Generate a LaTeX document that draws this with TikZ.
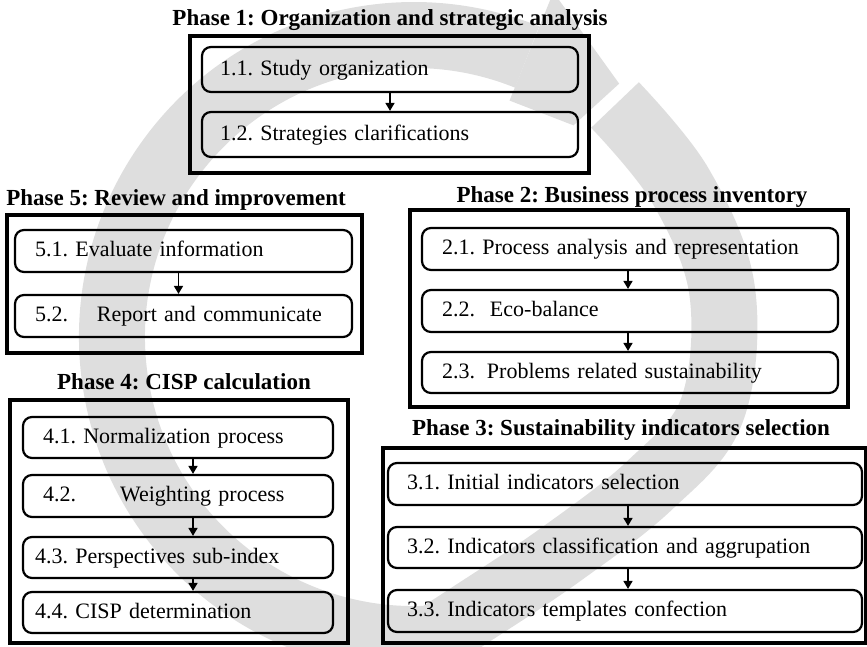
\documentclass[tikz,border=0pt]{standalone}
\usepackage{fontspec}
\setmainfont{Liberation Serif}
\usetikzlibrary{arrows.meta}
\definecolor{ringgray}{RGB}{222,222,222}
\frenchspacing
\tikzset{
  phasebox/.style={draw=black, line width=4.5pt, inner sep=0pt},
  stage/.style={draw=black, line width=2.2pt, rounded corners=9pt, align=left,
    inner ysep=0pt, font=\fontsize{22}{24}\selectfont, text height=15pt, text depth=4pt},
  phasetitle/.style={font=\fontsize{23}{26}\selectfont\bfseries, anchor=base, inner sep=0pt},
  flow/.style={line width=1.6pt, -{Triangle[length=8pt,width=9pt]}},
  ring/.style={draw=ringgray, line width=66pt, line cap=butt}
}
\begin{document}
\begin{tikzpicture}[x=1pt, y=-1pt]
\useasboundingbox (0,0) rectangle (867,646);

% circular cycle arrow in the background
\begin{scope}
  \clip (0,0) rectangle (867,646);
  \begin{scope}[shift={(414,337)}]
    \draw[ring] (80:302) arc[start angle=80, end angle=292, radius=302];
    \fill[ringgray] (292:255) -- (292:372) -- (309:326) -- (307:265) -- cycle;
  \end{scope}
  \draw[ring] plot[smooth, tension=0.6] coordinates
    {(615,105) (680,185) (722,290) (712,410) (650,485) (560,555) (470,615) (400,660)};
\end{scope}

% Phase 1
\node[phasetitle] (t1) at (390,25) {Phase 1: Organization and strategic analysis};
\node[phasebox, minimum width=399pt, minimum height=137pt] (p1) at (389.5,104.5) {};
\node[stage, text width=340pt, inner xsep=18pt, minimum height=45pt] (s11) at (390,69.5) {1.1. Study organization};
\node[stage, text width=340pt, inner xsep=18pt, minimum height=45pt] (s12) at (390,134.5) {1.2. Strategies clarifications};
\draw[flow] (s11.south) -- (s12.north);

% Phase 5
\node[phasetitle] (t5) at (176,205) {Phase 5: Review and improvement};
\node[phasebox, minimum width=355pt, minimum height=138pt] (p5) at (184.5,284) {};
\node[stage, text width=297pt, inner xsep=20pt, minimum height=42pt] (s51) at (183.5,251) {5.1. Evaluate information};
\node[stage, text width=297pt, inner xsep=20pt, minimum height=42pt] (s52) at (183.5,316) {5.2.\hspace{29pt}Report and communicate};
\draw[flow] ([xshift=-5pt]s51.south) -- ([xshift=-5pt]s52.north);

% Phase 2
\node[phasetitle] (t2) at (632,202) {Phase 2: Business process inventory};
\node[phasebox, minimum width=438pt, minimum height=197pt] (p2) at (629,308.5) {};
\node[stage, text width=376pt, inner xsep=20pt, minimum height=42pt] (s21) at (630,249) {2.1. Process analysis and representation};
\node[stage, text width=376pt, inner xsep=20pt, minimum height=42pt] (s22) at (630,311) {2.2.\hspace{15pt}Eco-balance};
\node[stage, text width=376pt, inner xsep=20pt, minimum height=41pt] (s23) at (630,372.5) {2.3.\hspace{12pt}Problems related sustainability};
\draw[flow] ([xshift=-2pt]s21.south) -- ([xshift=-2pt]s22.north);
\draw[flow] ([xshift=-2pt]s22.south) -- ([xshift=-2pt]s23.north);

% Phase 4
\node[phasetitle] (t4) at (184,389) {Phase 4: CISP calculation};
\node[phasebox, minimum width=338pt, minimum height=243pt] (p4) at (179,521.5) {};
\node[stage, text width=270pt, inner xsep=20pt, minimum height=41pt] (s41) at (178,437.5) {4.1. Normalization process};
\node[stage, text width=270pt, inner xsep=20pt, minimum height=42pt] (s42) at (178,496) {4.2.\hspace{44pt}Weighting process};
\node[stage, text width=286pt, inner xsep=12pt, minimum height=41pt] (s43) at (178,557.5) {4.3. Perspectives sub-index};
\node[stage, text width=286pt, inner xsep=12pt, minimum height=41pt] (s44) at (178,612.5) {4.4. CISP determination};
\draw[flow] ([xshift=15pt]s41.south) -- ([xshift=15pt]s42.north);
\draw[flow] ([xshift=15pt]s42.south) -- ([xshift=15pt]s43.north);
\draw[flow] ([xshift=15pt]s43.south) -- ([xshift=15pt]s44.north);

% Phase 3
\node[phasetitle] (t3) at (621,435) {Phase 3: Sustainability indicators selection};
\node[phasebox, minimum width=483pt, minimum height=195pt] (p3) at (624.5,545.5) {};
\node[stage, text width=436pt, inner xsep=19pt, minimum height=42pt] (s31) at (625,484) {3.1. Initial indicators selection};
\node[stage, text width=436pt, inner xsep=19pt, minimum height=41pt] (s32) at (625,547.5) {3.2. Indicators classification and aggrupation};
\node[stage, text width=436pt, inner xsep=19pt, minimum height=42pt] (s33) at (625,611) {3.3. Indicators templates confection};
\draw[flow] ([xshift=3pt]s31.south) -- ([xshift=3pt]s32.north);
\draw[flow] ([xshift=3pt]s32.south) -- ([xshift=3pt]s33.north);
\end{tikzpicture}
\end{document}
